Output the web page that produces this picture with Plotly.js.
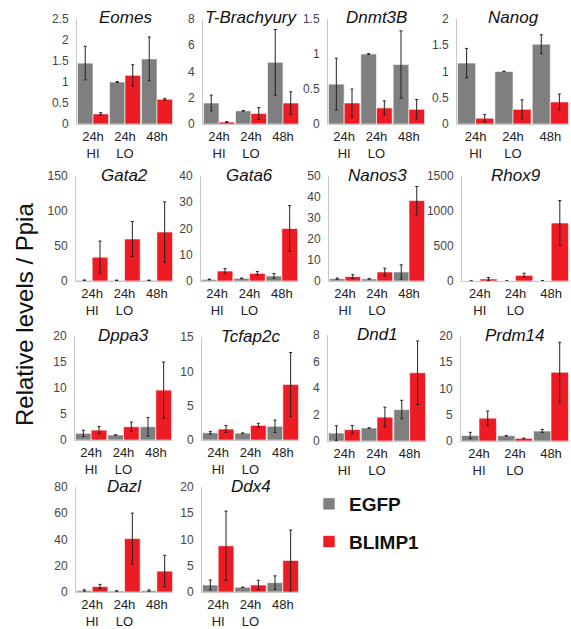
<!DOCTYPE html>
<html><head><meta charset="utf-8">
<script src="https://cdn.plot.ly/plotly-3.0.1.min.js"></script>
<style>html,body{margin:0;padding:0;background:#fff}#chart{width:571px;height:629px}</style>
</head><body><div id="chart"></div>
<script>
// ---- data ----
const conditions = ['24h<br>HI', '24h<br>LO', '48h'];
const genes = ['Eomes','T-Brachyury','Dnmt3B','Nanog','Gata2','Gata6','Nanos3','Rhox9','Dppa3','Tcfap2c','Dnd1','Prdm14','Dazl','Ddx4'];
const egfpMean = [
  [1.45, 1.0, 1.55], [1.6, 1.0, 4.7], [0.57, 1.0, 0.85], [1.16, 1.0, 1.52],
  [1, 1, 1], [0.6, 1.0, 1.9], [1.1, 1.0, 4.3], [1, 1, 3],
  [1.28, 0.96, 2.55], [1.05, 1.0, 2.0], [0.6, 0.98, 2.37], [1.05, 1.0, 1.9],
  [1.2, 0.8, 1.1], [1.33, 0.9, 1.78]
];
const egfpErr = [
  [0.4, 0.01, 0.52], [0.6, 0.02, 2.5], [0.37, 0.005, 0.48], [0.28, 0.005, 0.18],
  [0.5, 0.2, 0.3], [0.1, 0.1, 0.9], [0.3, 0.05, 3.4], [0.5, 0.5, 1],
  [0.6, 0.02, 1.8], [0.2, 0.02, 0.9], [0.55, 0.01, 0.7], [0.6, 0.02, 0.3],
  [0.5, 0.1, 0.5], [0.95, 0.02, 1.3]
];
const blimpMean = [
  [0.24, 1.16, 0.59], [0.15, 0.8, 1.6], [0.30, 0.23, 0.21], [0.11, 0.28, 0.42],
  [34, 60, 70], [3.8, 2.9, 20], [2.1, 4.3, 38.3], [29, 81, 829],
  [1.9, 2.55, 9.6], [1.6, 2.13, 8.1], [0.86, 1.8, 5.15], [4.35, 0.5, 13.1],
  [4.1, 40.7, 15.9], [8.8, 1.33, 6.0]
];
const blimpErr = [
  [0.03, 0.25, 0.02], [0.03, 0.45, 0.85], [0.2, 0.1, 0.14], [0.07, 0.18, 0.15],
  [23, 25, 43], [0.9, 0.7, 8.7], [0.9, 1.8, 6.7], [20, 30, 320],
  [0.7, 0.9, 5.4], [0.5, 0.3, 4.65], [0.3, 0.75, 2.4], [1.35, 0.05, 5.7],
  [1.7, 19.4, 12], [6.6, 0.9, 5.8]
];
const yMax = [2.5, 8, 1.5, 2, 150, 40, 50, 1500, 20, 15, 8, 20, 80, 20];
const yStep = [0.5, 2, 0.5, 0.5, 50, 10, 10, 500, 5, 5, 2, 5, 20, 5];
const seriesNames = ['EGFP', 'BLIMP1'];

// ---- layout geometry (pixels) ----
const W = 571, H = 629;
const boxes = [
  [77,173,19,124],[203,299,19,124],[328,425,19,124],[457,569,19,124],
  [76,173,176,281],[201,298,176,281],[329,425,176,281],[462,569,176,281],
  [75,172,336,440],[202,299,337,440],[328,426,335,441],[461,569,336,441],
  [76,173,487,592],[202,299,487,592]
];
const GRAY = '#7f7f7f', RED = '#ed1c24';
const FONT = 'Arial, "Liberation Sans", sans-serif';

const traces = [];
const layout = {
  width: W, height: H,
  margin: {l: 0, r: 0, t: 0, b: 0},
  paper_bgcolor: '#fff', plot_bgcolor: '#fff',
  barmode: 'group', bargap: 0.03, bargroupgap: 0,
  font: {family: FONT, color: '#333'},
  showlegend: true,
  legend: {
    x: 309 / W, y: 1 - 485 / H, xanchor: 'left', yanchor: 'top',
    font: {family: FONT, size: 19, color: '#111', weight: 'bold'},
    tracegroupgap: 10, itemwidth: 30, bgcolor: 'rgba(0,0,0,0)'
  },
  annotations: [],
};

genes.forEach((g, i) => {
  const n = i + 1;
  const xa = 'x' + (n === 1 ? '' : n), ya = 'y' + (n === 1 ? '' : n);
  const [x0, x1, yt, yb] = boxes[i];
  const common = {type: 'bar', x: conditions, xaxis: xa, yaxis: ya, hoverinfo: 'y'};
  traces.push(Object.assign({}, common, {
    name: seriesNames[0], y: egfpMean[i], legendgroup: 'egfp', showlegend: i === 0,
    marker: {color: GRAY, line: {color: 'rgba(255,255,255,0.6)', width: 1}},
    error_y: {type: 'data', array: egfpErr[i], visible: true, color: '#222', thickness: 1, width: 1.5}
  }));
  traces.push(Object.assign({}, common, {
    name: seriesNames[1], y: blimpMean[i], legendgroup: 'blimp', showlegend: i === 0,
    marker: {color: RED, line: {color: 'rgba(255,255,255,0.6)', width: 1}},
    error_y: {type: 'data', array: blimpErr[i], visible: true, color: '#222', thickness: 1, width: 1.5}
  }));
  const xk = 'xaxis' + (n === 1 ? '' : n), yk = 'yaxis' + (n === 1 ? '' : n);
  layout[xk] = {
    domain: [x0 / W, x1 / W], anchor: ya, type: 'category',
    range: [-0.5, 2.5], showline: true, linecolor: '#c8c8c8', linewidth: 1,
    ticks: '', showgrid: false, zeroline: false, fixedrange: true,
    tickfont: {family: FONT, size: 13, color: '#222'}
  };
  layout[yk] = {
    domain: [1 - yb / H, 1 - yt / H], anchor: xa,
    range: [0, yMax[i]], dtick: yStep[i], tick0: 0,
    showline: true, linecolor: '#c8c8c8', linewidth: 1,
    ticks: '', showgrid: false, zeroline: false, fixedrange: true,
    ticklabelstandoff: 5,
    tickfont: {family: FONT, size: 12, color: '#444'}
  };
  layout.annotations.push({
    text: g, xref: 'paper', yref: 'paper',
    x: (x0 + x1) / 2 / W, y: 1 - (yt - 1) / H, xanchor: 'center', yanchor: 'middle',
    showarrow: false, font: {family: FONT, size: 17, color: '#111', style: 'italic'}
  });
});

layout.annotations.push({
  text: 'Relative levels / Ppia', xref: 'paper', yref: 'paper',
  x: 25 / W, y: 1 - 315 / H, xanchor: 'center', yanchor: 'middle',
  textangle: -90, showarrow: false,
  font: {family: FONT, size: 24, color: '#111'}
});

Plotly.newPlot('chart', traces, layout, {displayModeBar: false, staticPlot: true});
</script>
</body></html>
